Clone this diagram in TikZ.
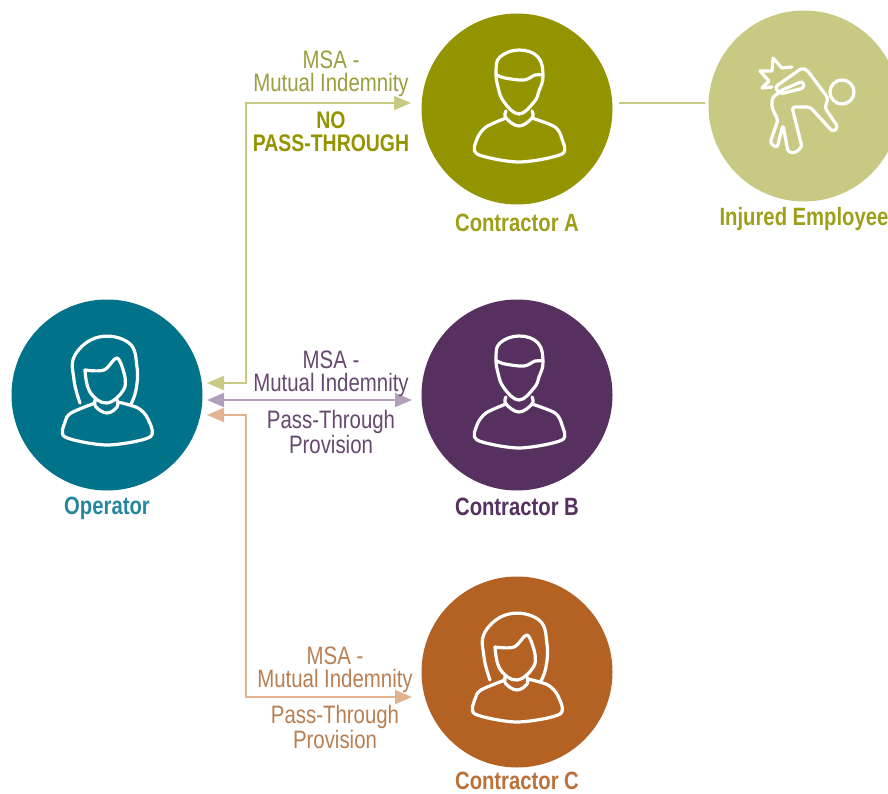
\documentclass[tikz,border=0pt]{standalone}
\usepackage{fontspec}
\setmainfont[FakeStretch=0.81]{Liberation Sans}
\usetikzlibrary{positioning,arrows.meta}
\definecolor{opteal}{HTML}{00728A}
\definecolor{ctraolive}{HTML}{939400}
\definecolor{ctrbplum}{HTML}{56305F}
\definecolor{ctrcrust}{HTML}{B46124}
\definecolor{injsage}{HTML}{C8CA84}
\definecolor{lineplum}{HTML}{B39FBC}
\definecolor{linerust}{HTML}{E2B391}
\definecolor{txtolive}{HTML}{9C9E3E}
\definecolor{txtplum}{HTML}{67486E}
\definecolor{txtrust}{HTML}{B97F52}
\tikzset{
    person/.style={circle,minimum size=191pt,inner sep=0pt,outer sep=0pt},
    whois/.style={font=\fontsize{25}{25}\selectfont\bfseries,inner sep=0pt,text depth=0pt},
    lab/.style={font=\fontsize{25.2}{23}\selectfont,align=center,inner sep=0pt},
    link/.style={line width=2pt,{Triangle[length=17pt,width=14pt]}-{Triangle[length=17pt,width=14pt]}},
    icon/.style={draw=white,line width=3.2pt,line join=round,line cap=round},
    manicon/.pic={
        \draw[icon] plot[smooth cycle,tension=.7] coordinates {(-13,-7) (-19,-22) (-21,-38) (-17,-52) (2,-59) (21,-52) (26,-33) (22,-18) (17,-7) (2,5)};
        \draw[icon] plot[smooth,tension=.6] coordinates {(-20,-34) (-12,-31) (7,-29) (18,-34) (25,-34)};
        \draw[icon] plot[smooth,tension=.7] coordinates {(-11,2) (-11,9) (2,17) (15,9) (15,2)};
        \draw[icon] plot[smooth,tension=.5] coordinates {(-11,9) (-31,18) (-40,30) (-40,45) (2,53) (45,45) (45,30) (38,18) (15,9)};
    },
    womanicon/.pic={
        \draw[icon] plot[smooth,tension=.7] coordinates {(-27,8) (-33,-15) (-32,-40) (-8,-58) (22,-52) (30,-28) (29,-5) (24,9)};
        \draw[icon] plot[smooth,tension=.6] coordinates {(-22,-25) (-3,-25) (10,-37) (17,-22)};
        \draw[icon] plot[smooth,tension=.7] coordinates {(-22,-25) (-17,-3) (0,8) (17,-6) (17,-22)};
        \draw[icon] plot[smooth,tension=.7] coordinates {(-12,5) (-11,12) (0,18) (10,12) (10,5)};
        \draw[icon] plot[smooth,tension=.5] coordinates {(-12,8) (-36,18) (-42,27) (-42,42) (0,50) (43,42) (41,24) (31,13) (11,7)};
    },
    hurticon/.pic={
        \draw[icon] (38,-14) circle (12);
        \draw[icon] (-12,-39) -- (-22,-38) -- (-31,-48) -- (-32,-35) -- (-44,-35) -- (-35,-25) -- (-42,-18) -- (-32,-19);
        \draw[icon,rounded corners=3pt] (-29,-19) -- (-2,-38) -- (3,-36) -- (24,-8) -- (21,2) -- (34,21) -- (29,26) -- (6,1) -- (-12,1)
            -- (-2,41) -- (-9,47) -- (-16,46) -- (-21,19) -- (-27,42) -- (-34,37) -- (-26,14) -- (-32,2) -- (-32,-8) -- (-22,-16) -- (-1,-25) -- (0,-18) -- (-24,-12) -- cycle;
    },
}

\begin{document}
\begin{tikzpicture}[x=1pt,y=-1pt]
    \useasboundingbox (0,0) rectangle (888,794);
    % circles
    \node [person,fill=opteal] (operator) at (107,395) {};
    \node [person,fill=ctrbplum,right=219pt of operator] (ctrb) {};
    \node [person,fill=ctraolive,above=95pt of ctrb] (ctra) {};
    \node [person,fill=ctrcrust,below=86pt of ctrb] (ctrc) {};
    \node [person,fill=injsage] (injured) at (804,106) {};
    \pic at (operator) {womanicon};
    \pic at (ctra) {manicon};
    \pic at (ctrb) {manicon};
    \pic at (ctrc) {womanicon};
    \pic at (injured) {hurticon};
    % names
    \node [whois,text=opteal!85!white,below=6pt of operator] (opname) {Operator};
    \node [whois,text=ctraolive!90!white,below=9pt of ctra] (ctraname) {Contractor A};
    \node [whois,text=ctrbplum,below=7pt of ctrb] (ctrbname) {Contractor B};
    \node [whois,text=ctrcrust!90!white,below=4pt of ctrc] (ctrcname) {Contractor C};
    \node [whois,text=ctraolive!90!white,below=6pt of injured] (injname) {Injured Employee};
    % ends of the connectors
    \coordinate (trunk) at (246,395);
    \coordinate (opa) at (207,383);
    \coordinate (opb) at (207,400);
    \coordinate (opc) at (207,415);
    \coordinate (ina) at (411,103);
    \coordinate (inb) at (412,400);
    \coordinate (inc) at (412,697);
    \coordinate (outa) at (619,103);
    \coordinate (outi) at (705,103);
    % connectors
    \draw [link,injsage] (opa) -- (opa -| trunk) -- (ina -| trunk) -- (ina);
    \draw [link,lineplum] (opb) -- (inb);
    \draw [link,linerust] (opc) -- (opc -| trunk) -- (inc -| trunk) -- (inc);
    \draw [injsage,line width=2pt] (outa) -- (outi);
    % labels
    \node [lab,text=txtolive] (msaa) at (331,74) {MSA -\\Mutual Indemnity};
    \node [lab,text=ctraolive,font=\fontsize{24}{23}\selectfont\bfseries] (nopass) at (331,132) {NO\\PASS-THROUGH};
    \node [lab,text=txtplum] (msab) at (331,374) {MSA -\\Mutual Indemnity};
    \node [lab,text=txtplum] (passb) at (331,432) {Pass-Through\\Provision};
    \node [lab,text=txtrust] (msac) at (335,670) {MSA -\\Mutual Indemnity};
    \node [lab,text=txtrust] (passc) at (335,727) {Pass-Through\\Provision};
\end{tikzpicture}
\end{document}
